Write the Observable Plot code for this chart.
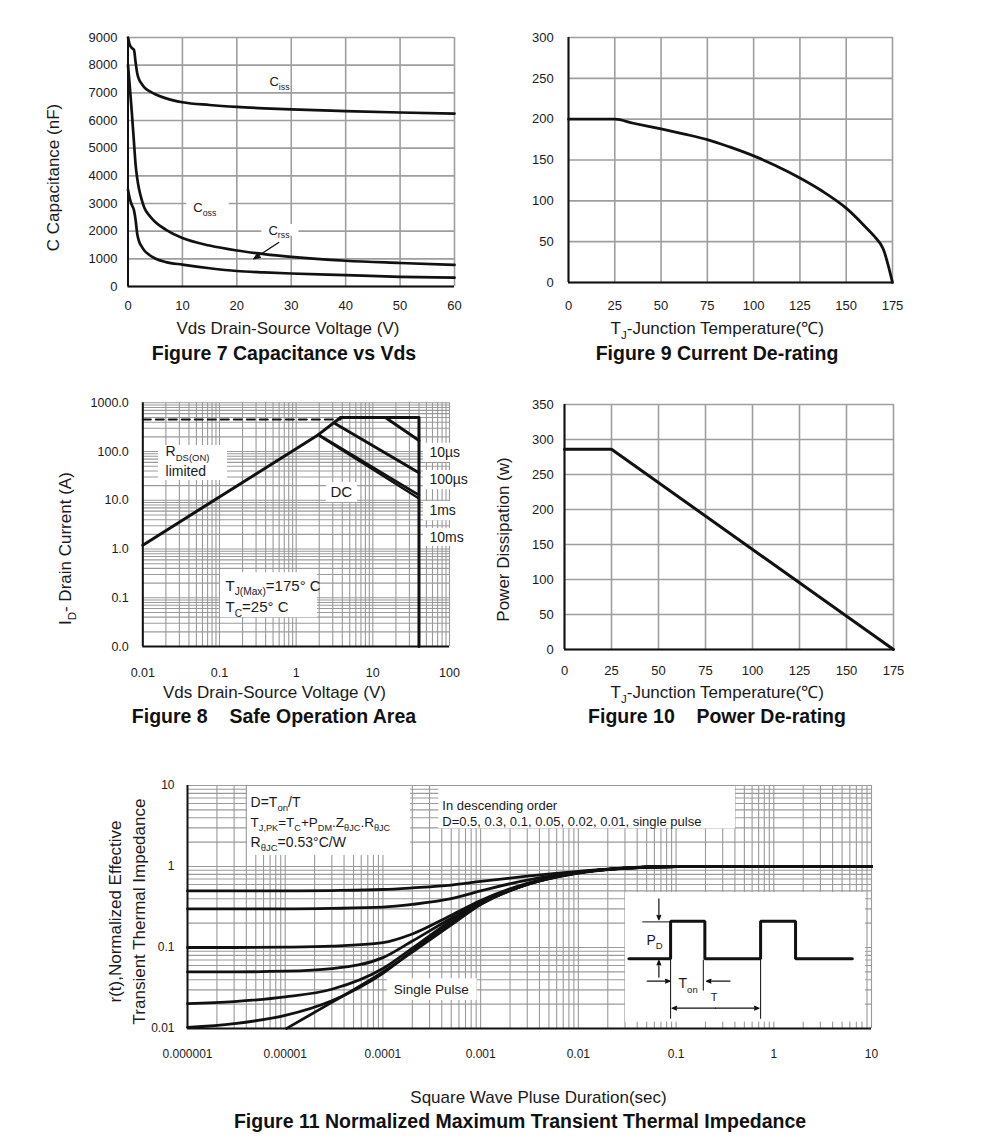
<!DOCTYPE html>
<html>
<head>
<meta charset="utf-8">
<script src="https://cdn.jsdelivr.net/npm/d3@7"></script>
<script src="https://cdn.jsdelivr.net/npm/@observablehq/plot@0.6"></script>
<style>
  body { margin: 0; background: #fff; }
  #page { position: relative; width: 991px; height: 1144px; background: #fff; overflow: hidden;
          font-family: "Liberation Sans", Arial, Helvetica, sans-serif; }
  .fig { position: absolute; }
  .title { position: absolute; font-weight: bold; font-size: 19.5px; white-space: pre; color: #111;
           transform: translate(-50%, -50%); line-height: 1; }
</style>
</head>
<body>
<div id="page"></div>
<script>
// ---------------- Figure 7: Capacitance vs Vds ----------------
const vds7  = [0, 0.3, 0.7, 1.1, 1.4, 1.7, 2, 2.5, 3, 4, 5, 7, 10, 15, 20, 25, 30, 40, 50, 60];
const ciss7 = [9000, 8750, 8620, 8550, 8100, 7700, 7500, 7330, 7200, 7050, 6950, 6800, 6660, 6560, 6490, 6440, 6400, 6340, 6290, 6250];
const coss7 = [8000, 7300, 6300, 5200, 4400, 3900, 3550, 3150, 2850, 2550, 2330, 2050, 1750, 1480, 1300, 1170, 1070, 930, 850, 780];
const crss7 = [3500, 3200, 2950, 2750, 2400, 1900, 1650, 1450, 1300, 1130, 1010, 880, 790, 660, 560, 510, 470, 410, 350, 320];
const xTicks7 = [0, 10, 20, 30, 40, 50, 60];
const yTicks7 = [0, 1000, 2000, 3000, 4000, 5000, 6000, 7000, 8000, 9000];
const labels7 = [
  {x: 26.0, y: 7380, text: "C_{iss}"},
  {x: 12.0, y: 2840, text: "C_{oss}"},
  {x: 25.8, y: 2030, text: "C_{rss}"}
];
const boxes7 = [
  {x1: 10.8, x2: 18.6, y1: 2620, y2: 3150},
  {x1: 24.6, x2: 31.4, y1: 1820, y2: 2240}
];
const arrow7 = [{x1: 27.7, y1: 1590, x2: 23.1, y2: 1000}];

// ---------------- Figure 9: Current De-rating ----------------
const temp9 = [0, 25, 35, 50, 62, 75, 87, 100, 112, 125, 137, 150, 160, 165, 170, 175];
const id9   = [200, 200, 195, 188, 182, 175, 166, 155, 143, 128, 112, 91, 69, 57, 41, 0];
const xTicks9 = [0, 25, 50, 75, 100, 125, 150, 175];
const yTicks9 = [0, 50, 100, 150, 200, 250, 300];

// ---------------- Figure 8: Safe Operation Area ----------------
const rdsV = [0.01, 1.95, 3.8],  rdsI = [1.2, 222, 500];
const dashV = [0.01, 3.8],       dashI = [455, 455];
const limV = [3.8, 40, 40],      limI = [500, 500, 0.01];
const us10V = [14.6, 40],        us10I = [500, 168];
const us100V = [3.25, 40],       us100I = [371, 36.6];
const ms1V = [1.95, 40],         ms1I = [222, 12.8];
const ms10V = [2.05, 40],        ms10I = [205, 10.9];
const xTicks8 = [0.01, 0.1, 1, 10, 100];
const xLabels8 = ["0.01", "0.1", "1", "10", "100"];
const yTicks8 = [0.01, 0.1, 1, 10, 100, 1000];
const yLabels8 = ["0.0", "0.1", "1.0", "10.0", "100.0", "1000.0"];
const minorSteps = [1, 2, 3, 4, 5, 6, 7, 8, 9];
const decades8x = [0.01, 0.1, 1, 10];
const decades8y = [0.01, 0.1, 1, 10, 100];
const boxes8 = [
  {x1: 0.016, x2: 0.127, y1: 25.4, y2: 132.8},
  {x1: 2.48, x2: 6.3, y1: 8.97, y2: 23.1},
  {x1: 0.103, x2: 1.9, y1: 0.039, y2: 0.327},
  {x1: 45.7, x2: 160, y1: 59.6, y2: 147.6},
  {x1: 45.7, x2: 160, y1: 16.5, y2: 40.8},
  {x1: 45.7, x2: 160, y1: 3.8, y2: 9.4},
  {x1: 45.7, x2: 160, y1: 1.13, y2: 2.65}
];
const labels8 = [
  {x: 0.0198, y: 98, text: "R_{DS(ON)}", size: 14},
  {x: 0.0198, y: 39, text: "limited", size: 14},
  {x: 2.8, y: 14.4, text: "DC", size: 15},
  {x: 0.12, y: 0.175, text: "T_{J(Max)}=175° C", size: 15},
  {x: 0.12, y: 0.0626, text: "T_{C}=25° C", size: 15},
  {x: 54.7, y: 96.8, text: "10µs", size: 14},
  {x: 54.7, y: 26.6, text: "100µs", size: 14},
  {x: 54.7, y: 6.15, text: "1ms", size: 14},
  {x: 54.7, y: 1.74, text: "10ms", size: 14}
];

// ---------------- Figure 10: Power De-rating ----------------
const temp10 = [0, 25, 175];
const pd10   = [286, 286, 0];
const xTicks10 = [0, 25, 50, 75, 100, 125, 150, 175];
const yTicks10 = [0, 50, 100, 150, 200, 250, 300, 350];

// ---------------- Figure 11: Transient Thermal Impedance ----------------
const tp11  = [1e-6, 3e-6, 1e-5, 3e-5, 1e-4, 2e-4, 5e-4, 1e-3, 3e-3, 1e-2, 3e-2, 0.1, 1, 10];
const d050  = [0.5, 0.5, 0.5, 0.505, 0.52, 0.545, 0.59, 0.655, 0.76, 0.87, 0.96, 1.0, 1.0, 1.0];
const d030  = [0.3, 0.3, 0.3, 0.304, 0.315, 0.34, 0.40, 0.50, 0.68, 0.85, 0.955, 1.0, 1.0, 1.0];
const d010  = [0.1, 0.1, 0.101, 0.104, 0.115, 0.147, 0.25, 0.38, 0.62, 0.84, 0.955, 1.0, 1.0, 1.0];
const d005  = [0.05, 0.05, 0.051, 0.055, 0.075, 0.12, 0.23, 0.36, 0.61, 0.84, 0.955, 1.0, 1.0, 1.0];
const d002  = [0.0203, 0.0215, 0.0245, 0.0305, 0.055, 0.098, 0.215, 0.35, 0.60, 0.835, 0.955, 1.0, 1.0, 1.0];
const d001  = [0.0103, 0.0115, 0.0145, 0.022, 0.048, 0.09, 0.205, 0.345, 0.60, 0.835, 0.955, 1.0, 1.0, 1.0];
const tpSingle = [1.03e-5, 3e-5, 1e-4, 2e-4, 5e-4, 1e-3, 3e-3, 1e-2, 3e-2, 0.1, 1, 10];
const single   = [0.01, 0.021, 0.05, 0.088, 0.19, 0.34, 0.60, 0.83, 0.95, 1.0, 1.0, 1.0];
const xTicks11 = [1e-6, 1e-5, 1e-4, 1e-3, 1e-2, 0.1, 1, 10];
const xLabels11 = ["0.000001", "0.00001", "0.0001", "0.001", "0.01", "0.1", "1", "10"];
const yTicks11 = [0.01, 0.1, 1, 10];
const yLabels11 = ["0.01", "0.1", "1", "10"];
const decades11x = [1e-6, 1e-5, 1e-4, 1e-3, 1e-2, 0.1, 1];
const decades11y = [0.01, 0.1, 1];
const boxes11 = [
  {x1: 4.11e-6, x2: 1.92e-4, y1: 1.37, y2: 9.7},
  {x1: 3.73e-4, x2: 0.406, y1: 2.92, y2: 9.7},
  {x1: 1.11e-4, x2: 9.2e-4, y1: 0.0222, y2: 0.0411},
  {x1: 0.0304, x2: 8.7, y1: 0.012, y2: 0.477}
];
const notes11 = [
  {x: 4.42e-6, y: 6.22, text: "D=T_{on}/T", size: 14},
  {x: 4.42e-6, y: 3.52, text: "T_{J,PK}=T_{C}+P_{DM}.Z_{θJC}.R_{θJC}", size: 13.5},
  {x: 4.42e-6, y: 2.0, text: "R_{θJC}=0.53°C/W", size: 14},
  {x: 4.05e-4, y: 5.66, text: "In descending order", size: 13},
  {x: 4.05e-4, y: 3.52, text: "D=0.5, 0.3, 0.1, 0.05, 0.02, 0.01, single pulse", size: 13},
  {x: 1.29e-4, y: 0.0303, text: "Single Pulse", size: 13.5},
  {x: 0.106, y: 0.0356, text: "T_{on}", size: 14},
  {x: 0.226, y: 0.0243, text: "T", size: 11}
];
const pdNote11 = [{x: 0.0603, y: 0.122, text: "P_{D}"}];
// inset schematic (in the plot's own units)
const pulseX = [0.0329, 0.0879, 0.0879, 0.197, 0.197, 0.733, 0.733, 1.67, 1.67, 6.36];
const pulseY = [0.0725, 0.0725, 0.211, 0.211, 0.0725, 0.0725, 0.211, 0.211, 0.0725, 0.0725];
const insetLinks = [
  {x1: 0.0451, y1: 0.207, x2: 0.0879, y2: 0.207},
  {x1: 0.19, y1: 0.071, x2: 0.19, y2: 0.0294},
  {x1: 0.0879, y1: 0.0725, x2: 0.0879, y2: 0.0132},
  {x1: 0.733, y1: 0.0725, x2: 0.733, y2: 0.0132}
];
const insetArrows = [
  {x1: 0.0667, y1: 0.399, x2: 0.0667, y2: 0.22},
  {x1: 0.0667, y1: 0.043, x2: 0.0667, y2: 0.069},
  {x1: 0.0507, y1: 0.0384, x2: 0.0865, y2: 0.0384},
  {x1: 0.356, y1: 0.0384, x2: 0.205, y2: 0.0384},
  {x1: 0.2536, y1: 0.0178, x2: 0.0912, y2: 0.0178},
  {x1: 0.2536, y1: 0.0178, x2: 0.705, y2: 0.0178}
];

// ---------------- helpers ----------------
const FONT = '"Liberation Sans", Arial, Helvetica, sans-serif';
const INK = "#111";
const GRID = "#9e9e9e";
const GRIDLOG = "#9a9a9a";
const TXT = "#1a1a1a";
const page = document.getElementById("page");
const pairs = (xs, ys) => xs.map((x, i) => [x, ys[i]]);
const lookup = (ticks, labels) => (d) => {
  const i = ticks.findIndex((t) => Math.abs(t - d) <= Math.abs(t) * 1e-9);
  return i < 0 ? "" : labels[i];
};
const plain = (d) => String(d);
const logGrid = (decades, last) => decades.flatMap((d) => minorSteps.map((m) => d * m)).concat([last]);

function richify(root) {
  root.querySelectorAll("text").forEach((t) => {
    const s = t.textContent;
    if (!s || s.indexOf("_{") < 0) return;
    const fs = parseFloat(getComputedStyle(t).fontSize) || 13;
    const shift = fs * 0.3;
    while (t.firstChild) t.removeChild(t.firstChild);
    let down = false;
    for (const p of s.split(/(_\{[^}]*\})/)) {
      if (!p) continue;
      const ts = document.createElementNS("http://www.w3.org/2000/svg", "tspan");
      if (p.startsWith("_{")) {
        ts.textContent = p.slice(2, -1);
        ts.setAttribute("font-size", (fs * 0.68).toFixed(2));
        if (!down) { ts.setAttribute("dy", shift.toFixed(2)); down = true; }
      } else {
        ts.textContent = p;
        if (down) { ts.setAttribute("dy", (-shift).toFixed(2)); down = false; }
      }
      t.appendChild(ts);
    }
  });
}

function place(opts, box, frame, fontSize) {
  const width = box.right - box.left, height = box.bottom - box.top;
  const svg = Plot.plot({
    ...opts,
    width, height,
    marginLeft: frame.l - box.left,
    marginRight: box.right - frame.r,
    marginTop: frame.t - box.top,
    marginBottom: box.bottom - frame.b,
    style: {fontFamily: FONT, fontSize: fontSize + "px", color: TXT, background: "transparent"}
  });
  const div = document.createElement("div");
  div.className = "fig";
  div.style.left = box.left + "px";
  div.style.top = box.top + "px";
  div.style.width = width + "px";
  div.style.height = height + "px";
  div.appendChild(svg);
  page.appendChild(div);
  richify(svg);
  return svg;
}

function addTitle(text, cx, cy) {
  const d = document.createElement("div");
  d.className = "title";
  d.textContent = text;
  d.style.left = cx + "px";
  d.style.top = cy + "px";
  page.appendChild(d);
}

const xLabel = (text, dx, dy, size = 17) =>
  Plot.text([text], {text: (d) => d, frameAnchor: "bottom", textAnchor: "middle", lineAnchor: "middle", dx, dy, fontSize: size, fill: TXT});
const yLabel = (text, dx, dy, size = 17) =>
  Plot.text([text], {text: (d) => d, frameAnchor: "left", textAnchor: "middle", lineAnchor: "middle", rotate: -90, dx, dy, fontSize: size, fill: TXT});
const boxRects = (boxes) => Plot.rect(boxes, {x1: "x1", x2: "x2", y1: "y1", y2: "y2", fill: "white"});

// ---------------- Figure 7 ----------------
place({
  x: {domain: [0, 60], ticks: xTicks7, tickFormat: plain, tickSize: 0, tickPadding: 14.3, label: null},
  y: {domain: [0, 9000], ticks: yTicks7, tickFormat: plain, tickSize: 0, tickPadding: 10.5, label: null},
  marks: [
    Plot.ruleX(xTicks7, {stroke: GRID, strokeWidth: 1.6}),
    Plot.ruleY(yTicks7, {stroke: GRID, strokeWidth: 1.6}),
    boxRects(boxes7),
    Plot.line(pairs(vds7, ciss7), {curve: "monotone-x", stroke: INK, strokeWidth: 2.7}),
    Plot.line(pairs(vds7, coss7), {curve: "monotone-x", stroke: INK, strokeWidth: 2.7}),
    Plot.line(pairs(vds7, crss7), {curve: "monotone-x", stroke: INK, strokeWidth: 2.7}),
    Plot.ruleX([0], {stroke: INK, strokeWidth: 2}),
    Plot.ruleY([0], {stroke: INK, strokeWidth: 2}),
    Plot.text(labels7, {x: "x", y: "y", text: "text", textAnchor: "start", fontSize: 13, fill: TXT}),
    Plot.arrow(arrow7, {x1: "x1", y1: "y1", x2: "x2", y2: "y2", stroke: INK, fill: INK, strokeWidth: 1.3, headLength: 8, headAngle: 40}),
    xLabel("Vds Drain-Source Voltage (V)", -3.3, 42.3),
    yLabel("C Capacitance (nF)", -74.5, 15.5)
  ]
}, {left: 30, top: 20, right: 470, bottom: 345}, {l: 127.5, r: 454, t: 37, b: 286}, 13);
addTitle("Figure 7 Capacitance vs Vds", 284, 354);

// ---------------- Figure 9 ----------------
place({
  x: {domain: [0, 175], ticks: xTicks9, tickFormat: plain, tickSize: 0, tickPadding: 18.3, label: null},
  y: {domain: [0, 300], ticks: yTicks9, tickFormat: plain, tickSize: 0, tickPadding: 14.7, label: null},
  marks: [
    Plot.ruleX(xTicks9, {stroke: GRID, strokeWidth: 1.6}),
    Plot.ruleY(yTicks9, {stroke: GRID, strokeWidth: 1.6}),
    Plot.line(pairs(temp9, id9), {curve: "monotone-x", stroke: INK, strokeWidth: 2.8}),
    Plot.ruleX([0], {stroke: INK, strokeWidth: 2}),
    Plot.ruleY([0], {stroke: INK, strokeWidth: 2}),
    xLabel("T_{J}-Junction Temperature(℃)", -13.3, 46.3)
  ]
}, {left: 500, top: 20, right: 920, bottom: 345}, {l: 568, r: 892, t: 37, b: 282}, 13);
addTitle("Figure 9 Current De-rating", 717, 354);

// ---------------- Figure 8 ----------------
place({
  x: {type: "log", domain: [0.01, 100], ticks: xTicks8, tickFormat: lookup(xTicks8, xLabels8), tickSize: 0, tickPadding: 21.2, label: null},
  y: {type: "log", domain: [0.01, 1000], ticks: yTicks8, tickFormat: lookup(yTicks8, yLabels8), tickSize: 0, tickPadding: 14, label: null},
  marks: [
    Plot.ruleX(logGrid(decades8x, 100), {stroke: GRIDLOG, strokeWidth: 1.1}),
    Plot.ruleY(logGrid(decades8y, 1000), {stroke: GRIDLOG, strokeWidth: 1.1}),
    boxRects(boxes8),
    Plot.line(pairs(dashV, dashI), {stroke: INK, strokeWidth: 2, strokeDasharray: "8,5"}),
    Plot.line(pairs(rdsV, rdsI), {stroke: INK, strokeWidth: 3}),
    Plot.line(pairs(limV, limI), {stroke: INK, strokeWidth: 3}),
    Plot.line(pairs(us10V, us10I), {stroke: INK, strokeWidth: 3}),
    Plot.line(pairs(us100V, us100I), {stroke: INK, strokeWidth: 3}),
    Plot.line(pairs(ms1V, ms1I), {stroke: INK, strokeWidth: 2.6}),
    Plot.line(pairs(ms10V, ms10I), {stroke: INK, strokeWidth: 2.2}),
    Plot.ruleX([0.01], {stroke: INK, strokeWidth: 2}),
    Plot.ruleY([0.01], {stroke: INK, strokeWidth: 2}),
    Plot.text(labels8, {x: "x", y: "y", text: "text", fontSize: (d) => d.size, textAnchor: "start", fill: TXT}),
    xLabel("Vds Drain-Source Voltage (V)", -21.7, 45.7),
    yLabel("I_{D}- Drain Current (A)", -77.3, 24)
  ]
}, {left: 40, top: 390, right: 472, bottom: 705}, {l: 142.3, r: 449, t: 402.3, b: 646}, 12.5);
addTitle("Figure 8    Safe Operation Area", 274, 717);

// ---------------- Figure 10 ----------------
place({
  x: {domain: [0, 175], ticks: xTicks10, tickFormat: plain, tickSize: 0, tickPadding: 16.3, label: null},
  y: {domain: [0, 350], ticks: yTicks10, tickFormat: plain, tickSize: 0, tickPadding: 10.7, label: null},
  marks: [
    Plot.ruleX(xTicks10, {stroke: GRID, strokeWidth: 1.6}),
    Plot.ruleY(yTicks10, {stroke: GRID, strokeWidth: 1.6}),
    Plot.line(pairs(temp10, pd10), {stroke: INK, strokeWidth: 3}),
    Plot.ruleX([0], {stroke: INK, strokeWidth: 2}),
    Plot.ruleY([0], {stroke: INK, strokeWidth: 2}),
    xLabel("T_{J}-Junction Temperature(℃)", -11.8, 42.7),
    yLabel("Power Dissipation (w)", -61, 12.5)
  ]
}, {left: 480, top: 390, right: 920, bottom: 705}, {l: 564, r: 893, t: 404, b: 649}, 13);
addTitle("Figure 10    Power De-rating", 717, 717);

// ---------------- Figure 11 ----------------
place({
  x: {type: "log", domain: [1e-6, 10], ticks: xTicks11, tickFormat: lookup(xTicks11, xLabels11), tickSize: 0, tickPadding: 21, label: null},
  y: {type: "log", domain: [0.01, 10], ticks: yTicks11, tickFormat: lookup(yTicks11, yLabels11), tickSize: 0, tickPadding: 13, label: null},
  marks: [
    Plot.ruleX(logGrid(decades11x, 10), {stroke: GRIDLOG, strokeWidth: 1.1}),
    Plot.ruleY(logGrid(decades11y, 10), {stroke: GRIDLOG, strokeWidth: 1.1}),
    boxRects(boxes11),
    ...[d050, d030, d010, d005, d002, d001].map((s) =>
      Plot.line(pairs(tp11, s), {curve: "monotone-x", stroke: INK, strokeWidth: 2.8})),
    Plot.line(pairs(tpSingle, single), {curve: "monotone-x", stroke: INK, strokeWidth: 2.8}),
    Plot.ruleX([1e-6], {stroke: INK, strokeWidth: 2}),
    Plot.ruleY([0.01], {stroke: INK, strokeWidth: 2}),
    // inset schematic
    Plot.link(insetLinks, {x1: "x1", y1: "y1", x2: "x2", y2: "y2", stroke: INK, strokeWidth: 1}),
    Plot.line(pairs(pulseX, pulseY), {stroke: INK, strokeWidth: 3, strokeLinejoin: "miter"}),
    Plot.arrow(insetArrows, {x1: "x1", y1: "y1", x2: "x2", y2: "y2", stroke: INK, fill: INK, strokeWidth: 1.2, headLength: 6, headAngle: 45}),
    Plot.text(pdNote11, {x: "x", y: "y", text: "text", fontSize: 14, textAnchor: "middle", fill: TXT}),
    Plot.text(notes11, {x: "x", y: "y", text: "text", fontSize: (d) => d.size, textAnchor: "start", fill: TXT}),
    xLabel("Square Wave Pluse Duration(sec)", 9, 69),
    yLabel("r(t),Normalized Effective", -72, 4.5),
    yLabel("Transient Thermal Impedance", -47.5, 4.5)
  ]
}, {left: 90, top: 770, right: 900, bottom: 1110}, {l: 187, r: 871, t: 785, b: 1028}, 12);
addTitle("Figure 11 Normalized Maximum Transient Thermal Impedance", 520, 1122);
</script>
</body>
</html>
